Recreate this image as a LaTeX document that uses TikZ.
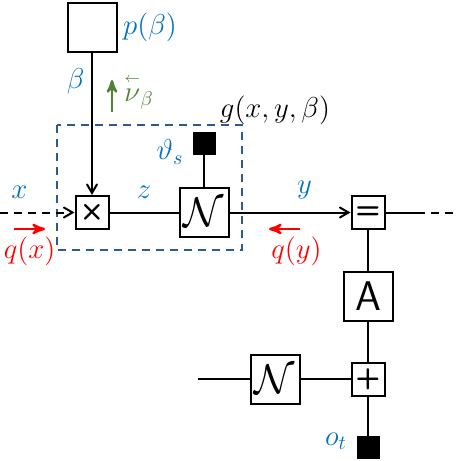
\documentclass[tikz,border=0pt]{standalone}
\usepackage{amsmath,amssymb}
\usepackage{fontspec}
\usepackage{tikz}
\usetikzlibrary{arrows}
\usetikzlibrary{positioning}
\definecolor{labblue}{RGB}{0,112,192}
\definecolor{boxblue}{RGB}{46,92,138}
\definecolor{msggreen}{RGB}{84,130,53}

\begin{document}
\begin{tikzpicture}[x=0.5pt,
                    y=-0.5pt,
                    >=angle 60,
                    line width=1pt,
                    big/.style={rectangle,draw,minimum size=24.5pt,inner sep=0pt},
                    small/.style={rectangle,draw,minimum size=16.5pt,inner sep=0pt,font=\Large\sffamily\bfseries},
                    obs/.style={rectangle,draw,fill=black,minimum size=10.5pt,inner sep=0pt},
                    lab/.style={text=labblue,font=\Large},
                    msg/.style={->,>=stealth',line width=1.2pt},
                    dsh/.style={dash pattern=on 4pt off 3pt}
                    ]
  \useasboundingbox (0,0) rectangle (459,461);
  % factor nodes
  \node[big]   (prior) at (92,27)     {};
  \node[small] (mult)  at (92,212.5)  {×};
  \node[big]   (nn)    at (204,212.5) {\huge$\mathcal{N}$};
  \node[obs]   (theta) at (204,143)   {};
  \node[small] (eq)    at (368,212.5) {=};
  \node[big]   (amat)  at (368,296.5) {\huge\sffamily A};
  \node[small] (plus)  at (368,379)   {+};
  \node[big]   (noise) at (275,379)   {\huge$\mathcal{N}$};
  \node[obs]   (ot)    at (368,447.5) {};
  \coordinate (xin)  at (0,212.5);
  \coordinate (yout) at (417,212.5);
  \coordinate (yend) at (459,212.5);
  \coordinate (nin)  at (198,379);
  % labels
  \node[lab] (plab)  at (150,27)  {$p(\beta)$};
  \node[lab] (thlab) at (170,152) {$\vartheta_s$};
  \node[lab] (otlab) at (336,441) {$o_t$};
  \node[font=\Large] (glab) at (275,110) {$g(x,y,\beta)$};
  % dashed subgraph
  \draw[boxblue,dsh] (57,125) rectangle (242,250);
  % edges
  \draw[->] (prior) -- node[lab,left,pos=0.2] {$\beta$} (mult);
  \draw[->,dsh] (xin) -- node[lab,above=3pt,pos=0.26] {$x$} (mult);
  \draw (mult) -- node[lab,above=3pt] {$z$} (nn);
  \draw (theta) -- (nn);
  \draw[->] (nn) -- node[lab,above=3pt,pos=0.62] {$y$} (eq);
  \draw (eq) -- (yout);
  \draw[dsh] (yout) -- (yend);
  \draw (eq) -- (amat);
  \draw (amat) -- (plus);
  \draw (plus) -- (ot);
  \draw (nin) -- (noise);
  \draw (noise) -- (plus);
  % messages
  \coordinate (nu1) at (112,112);
  \coordinate (nu2) at (112,80);
  \draw[msg,msggreen] (nu1) -- (nu2);
  \node[text=msggreen,font=\Large] (nulab) at (139,92) {$\overset{\scriptscriptstyle\leftarrow}{\nu}_{\beta}$};
  \coordinate (qx1) at (14,229);
  \coordinate (qx2) at (45,229);
  \draw[msg,red] (qx1) -- (qx2) node[midway,below,text=red,font=\Large] {$q(x)$};
  \coordinate (qy1) at (300,229);
  \coordinate (qy2) at (269,229);
  \draw[msg,red] (qy1) -- (qy2) node[midway,below,xshift=6pt,text=red,font=\Large] {$q(y)$};
\end{tikzpicture}
\end{document}
